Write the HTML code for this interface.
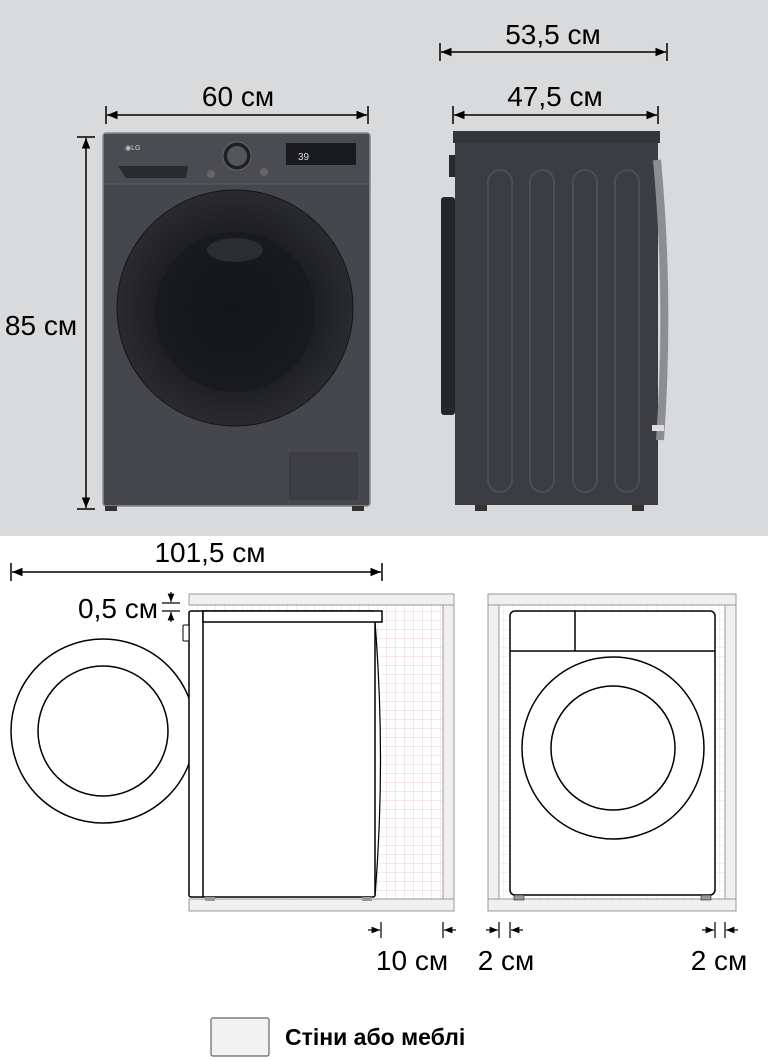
<!DOCTYPE html>
<html><head><meta charset="utf-8"><style>
html,body{margin:0;padding:0;background:#fff}
svg{display:block}
text{font-family:"Liberation Sans","DejaVu Sans",sans-serif;fill:#000}
</style></head><body>
<svg width="768" height="1060" viewBox="0 0 768 1060" xmlns="http://www.w3.org/2000/svg">
<defs>
<pattern id="g" width="9" height="9" patternUnits="userSpaceOnUse"><path d="M9 0V9M0 9H9" stroke="#e6c4d0" stroke-width="0.8" fill="none"/></pattern>
<pattern id="g2" width="9" height="9" patternUnits="userSpaceOnUse"><path d="M9 0V9M0 9H9" stroke="#dedede" stroke-width="0.8" fill="none"/></pattern>
<marker id="ah" viewBox="0 0 10 10" refX="10" refY="5" markerWidth="7" markerHeight="7" orient="auto-start-reverse"><path d="M0 1L10 5L0 9z" fill="#000"/></marker>
<radialGradient id="dr" cx="0.5" cy="0.5" r="0.5"><stop offset="0" stop-color="#111214"/><stop offset="0.7" stop-color="#1f2024"/><stop offset="1" stop-color="#2a2b2f"/></radialGradient>
</defs>
<rect x="0" y="0" width="768" height="536" fill="#d9dadc"/>

<rect x="103" y="133" width="267" height="373" rx="3" fill="#46474c" stroke="#8a8b90" stroke-width="1.5"/>
<rect x="104" y="134" width="265" height="50" fill="#4b4c51"/>
<line x1="104" y1="184" x2="369" y2="184" stroke="#5c5d62"/>
<text x="125" y="150" font-size="7" style="fill:#ccc">◉LG</text>
<path d="M118 166 H188 L186 178 H126 Z" fill="#2a2b2f"/>
<circle cx="237" cy="156" r="14" fill="#1f2024" stroke="#666" stroke-width="1"/>
<circle cx="237" cy="156" r="10" fill="#55565b"/>
<rect x="286" y="143" width="70" height="22" fill="#1a1b1e"/>
<text x="298" y="160" font-size="10" style="fill:#ddd">39</text>
<circle cx="211" cy="174" r="4" fill="#666"/><circle cx="264" cy="172" r="4" fill="#666"/>
<circle cx="235" cy="308" r="118" fill="url(#dr)" stroke="#141517" stroke-width="1"/>
<circle cx="235" cy="312" r="80" fill="#17181b" opacity="0.7"/>
<ellipse cx="235" cy="250" rx="28" ry="12" fill="#2c2d31"/>
<rect x="290" y="453" width="67" height="46" fill="#3f4045" stroke="#35363a"/>
<rect x="105" y="506" width="12" height="5" fill="#333"/><rect x="352" y="506" width="12" height="5" fill="#333"/>

<rect x="455" y="133" width="203" height="372" fill="#3c3d42"/>
<rect x="453" y="131" width="207" height="12" fill="#35363a"/>
<rect x="441" y="197" width="14" height="218" rx="3" fill="#25262a"/>
<rect x="449" y="155" width="6" height="22" fill="#2a2b2f"/>
<g fill="none" stroke="#4d4e53" stroke-width="2">
<rect x="488" y="170" width="24" height="322" rx="12"/>
<rect x="530" y="170" width="24" height="322" rx="12"/>
<rect x="573" y="170" width="24" height="322" rx="12"/>
<rect x="615" y="170" width="24" height="322" rx="12"/>
</g>
<path d="M657 160 Q670 300 660 440" stroke="#8d8e93" stroke-width="8" fill="none"/>
<rect x="652" y="425" width="12" height="6" fill="#ddd"/>
<rect x="475" y="505" width="12" height="6" fill="#333"/><rect x="632" y="505" width="12" height="6" fill="#333"/>

<g stroke="#000" stroke-width="1.5">
<line x1="107" y1="115" x2="367" y2="115" marker-start="url(#ah)" marker-end="url(#ah)"/>
<line x1="106" y1="106" x2="106" y2="124"/><line x1="368" y1="106" x2="368" y2="124"/>
<line x1="86" y1="138" x2="86" y2="508" marker-start="url(#ah)" marker-end="url(#ah)"/>
<line x1="77" y1="137" x2="95" y2="137"/><line x1="77" y1="509" x2="95" y2="509"/>
<line x1="441" y1="52" x2="666" y2="52" marker-start="url(#ah)" marker-end="url(#ah)"/>
<line x1="440" y1="43" x2="440" y2="61"/><line x1="667" y1="43" x2="667" y2="61"/>
<line x1="454" y1="115" x2="657" y2="115" marker-start="url(#ah)" marker-end="url(#ah)"/>
<line x1="453" y1="106" x2="453" y2="124"/><line x1="658" y1="106" x2="658" y2="124"/>
</g>
<text x="238" y="106" font-size="28" text-anchor="middle">60 см</text>
<text x="41" y="335" font-size="28" text-anchor="middle">85 см</text>
<text x="553" y="44" font-size="28" text-anchor="middle">53,5 см</text>
<text x="555" y="106" font-size="28" text-anchor="middle">47,5 см</text>

<g stroke="#000" stroke-width="1.5">
<line x1="12" y1="572" x2="381" y2="572" marker-start="url(#ah)" marker-end="url(#ah)"/>
<line x1="11" y1="563" x2="11" y2="581"/><line x1="382" y1="563" x2="382" y2="581"/>
</g>
<text x="210" y="562" font-size="28" text-anchor="middle">101,5 см</text>
<rect x="189" y="605" width="254" height="294" fill="url(#g)"/>
<rect x="189" y="594" width="265" height="11" fill="#f0f0f0" stroke="#999"/>
<rect x="189" y="899" width="265" height="12" fill="#f0f0f0" stroke="#999"/>
<rect x="443" y="605" width="11" height="294" fill="#f0f0f0" stroke="#999"/>
<circle cx="103" cy="731" r="92" fill="#fff" stroke="#000" stroke-width="1.5"/>
<circle cx="103" cy="731" r="65" fill="#fff" stroke="#000" stroke-width="1.5"/>
<path d="M375 622 Q386 760 375 896" fill="#fff" stroke="#000" stroke-width="1.2"/>
<rect x="189" y="611" width="186" height="286" rx="2" fill="#fff" stroke="#000" stroke-width="1.5"/>
<line x1="203" y1="611" x2="203" y2="897" stroke="#000" stroke-width="1.5"/>
<rect x="203" y="611" width="179" height="11" fill="#fff" stroke="#000" stroke-width="1.5"/>
<rect x="183" y="625" width="6" height="16" rx="1" fill="#fff" stroke="#000"/>
<rect x="205" y="897" width="10" height="4" fill="#999"/><rect x="362" y="897" width="10" height="4" fill="#999"/>
<text x="158" y="618" font-size="28" text-anchor="end">0,5 см</text>
<g stroke="#000" stroke-width="1.2">
<line x1="171" y1="592" x2="171" y2="602" marker-end="url(#ah)"/>
<line x1="171" y1="622" x2="171" y2="612" marker-end="url(#ah)"/>
<line x1="162" y1="603" x2="180" y2="603"/><line x1="162" y1="611" x2="180" y2="611"/>
</g>

<rect x="499" y="605" width="226" height="294" fill="url(#g2)"/>
<rect x="488" y="594" width="248" height="11" fill="#f0f0f0" stroke="#999"/>
<rect x="488" y="899" width="248" height="12" fill="#f0f0f0" stroke="#999"/>
<rect x="488" y="605" width="11" height="294" fill="#f0f0f0" stroke="#999"/>
<rect x="725" y="605" width="11" height="294" fill="#f0f0f0" stroke="#999"/>
<rect x="510" y="611" width="205" height="284" rx="5" fill="#fff" stroke="#000" stroke-width="1.5"/>
<line x1="510" y1="651" x2="715" y2="651" stroke="#000" stroke-width="1.5"/>
<line x1="575" y1="611" x2="575" y2="651" stroke="#000" stroke-width="1.5"/>
<circle cx="613" cy="748" r="91" fill="#fff" stroke="#000" stroke-width="1.5"/>
<circle cx="613" cy="748" r="62" fill="#fff" stroke="#000" stroke-width="1.5"/>
<rect x="514" y="895" width="10" height="5" fill="#999" stroke="#000" stroke-width="0.5"/><rect x="701" y="895" width="10" height="5" fill="#999" stroke="#000" stroke-width="0.5"/>

<g stroke="#000" stroke-width="1.2">
<line x1="381" y1="922" x2="381" y2="938"/><line x1="368" y1="930" x2="380" y2="930" marker-end="url(#ah)"/>
<line x1="443" y1="922" x2="443" y2="938"/><line x1="456" y1="930" x2="444" y2="930" marker-end="url(#ah)"/>
<line x1="499" y1="922" x2="499" y2="938"/><line x1="486" y1="930" x2="498" y2="930" marker-end="url(#ah)"/>
<line x1="510" y1="922" x2="510" y2="938"/><line x1="523" y1="930" x2="511" y2="930" marker-end="url(#ah)"/>
<line x1="715" y1="922" x2="715" y2="938"/><line x1="702" y1="930" x2="714" y2="930" marker-end="url(#ah)"/>
<line x1="725" y1="922" x2="725" y2="938"/><line x1="738" y1="930" x2="726" y2="930" marker-end="url(#ah)"/>
</g>
<text x="412" y="970" font-size="28" text-anchor="middle">10 см</text>
<text x="506" y="970" font-size="28" text-anchor="middle">2 см</text>
<text x="719" y="970" font-size="28" text-anchor="middle">2 см</text>

<rect x="211" y="1018" width="58" height="38" rx="2" fill="#f2f2f2" stroke="#666" stroke-width="1.2"/>
<text x="285" y="1045" font-size="23" font-weight="bold">Стіни або меблі</text>
</svg>
</body></html>
